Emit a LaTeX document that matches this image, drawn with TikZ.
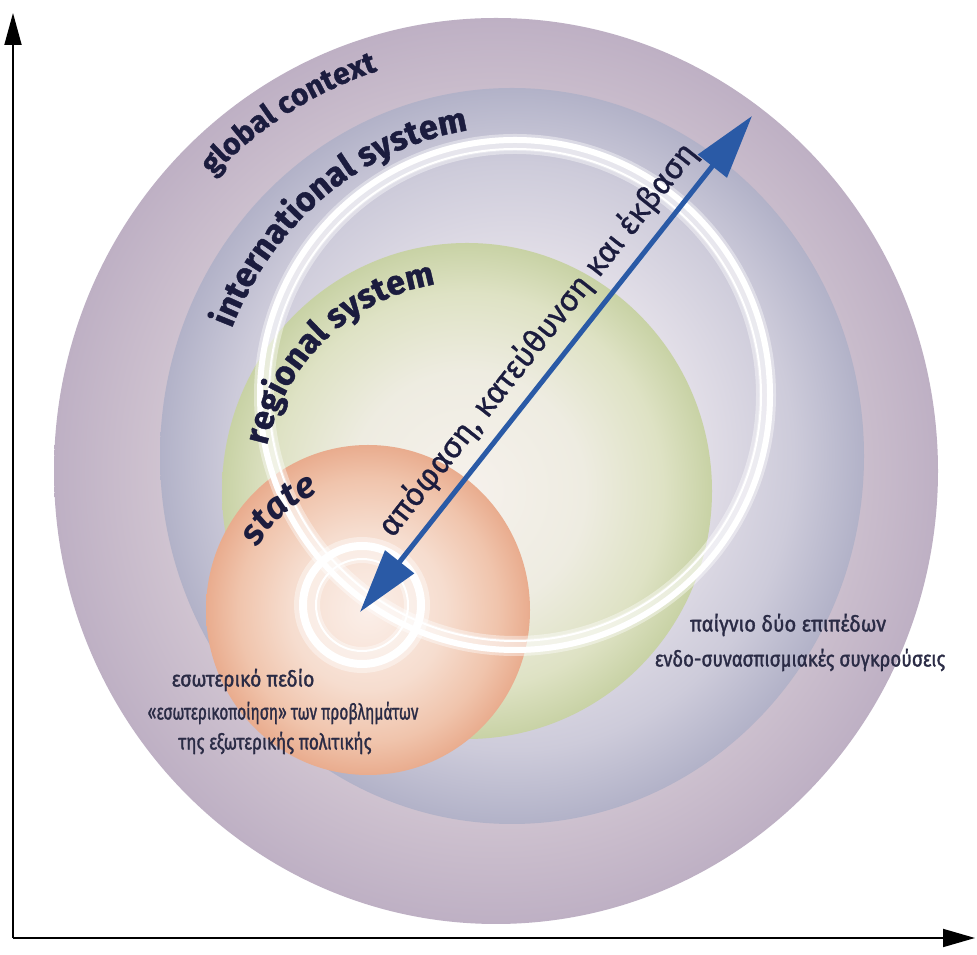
\documentclass[tikz,border=0pt]{standalone}
\usepackage{fontspec}
\usepackage{graphicx}
\usetikzlibrary{arrows.meta,decorations.text}
\newfontfamily\curvfont{Fira Sans}[BoldFeatures={FakeBold=1.2}]
\newfontfamily\lblfont{Fira Sans}[FakeStretch=0.88, FakeBold=1.4]
\newfontfamily\dirfont{Fira Sans}[FakeBold=0.9]
\definecolor{navy}{HTML}{1B1C3E}
\definecolor{txtgrey}{HTML}{2A2B45}
\definecolor{arrowblue}{HTML}{2A5AA6}
\definecolor{oc0}{RGB}{244,238,240}
\definecolor{oc1}{RGB}{210,198,210}
\definecolor{oc2}{RGB}{190,176,196}
\definecolor{ic0}{RGB}{246,243,246}
\definecolor{ic1}{RGB}{230,226,234}
\definecolor{ic2}{RGB}{205,203,218}
\definecolor{ic3}{RGB}{178,178,200}
\definecolor{gc0}{RGB}{246,241,236}
\definecolor{gc1}{RGB}{238,236,225}
\definecolor{gc2}{RGB}{222,226,196}
\definecolor{gc3}{RGB}{200,210,165}
\definecolor{sc0}{RGB}{251,239,233}
\definecolor{sc1}{RGB}{246,221,207}
\definecolor{sc2}{RGB}{240,196,172}
\definecolor{sc3}{RGB}{233,172,142}
\pgfdeclareradialshading{sOuter}{\pgfpoint{0bp}{0bp}}{color(0bp)=(oc0); color(18bp)=(oc1); color(25bp)=(oc2); color(50bp)=(oc2)}
\pgfdeclareradialshading{sIntl}{\pgfpoint{0bp}{0bp}}{color(0bp)=(ic0); color(12bp)=(ic1); color(20bp)=(ic2); color(25bp)=(ic3); color(50bp)=(ic3)}
\pgfdeclareradialshading{sGreen}{\pgfpoint{0bp}{0bp}}{color(0bp)=(gc0); color(12bp)=(gc1); color(20bp)=(gc2); color(25bp)=(gc3); color(50bp)=(gc3)}
\pgfdeclareradialshading{sState}{\pgfpoint{0bp}{0bp}}{color(0bp)=(sc0); color(12bp)=(sc1); color(20bp)=(sc2); color(25bp)=(sc3); color(50bp)=(sc3)}
\tikzset{
  glow/.style={draw=white, opacity=0.4},
  ringmain/.style={draw=white, line width=6},
  ringthin/.style={draw=white, line width=2},
  lbl/.style={font=\lblfont\fontsize{22}{24}\selectfont, text=txtgrey, inner sep=0pt},
  axis/.style={draw=black, line width=1.8},
  curvlbl/.style={decorate, decoration={text along path, text align=center, text={#1}}}
}
\begin{document}
\begin{tikzpicture}[x=1pt,y=1pt]
\useasboundingbox (0,0) rectangle (977,955);
\fill[white] (0,0) rectangle (977,955);
% circles
\shade[shading=sOuter] (496,484) ellipse [x radius=442, y radius=453];
\shade[shading=sIntl] (512,499) ellipse [x radius=352, y radius=368];
\shade[shading=sGreen] (467,464) ellipse [x radius=245, y radius=248];
\shade[shading=sState] (368,345) ellipse [x radius=162, y radius=165];
% white loops
\draw[glow, line width=20] (515,560) circle [radius=251];
\draw[ringmain] (515,560) circle [radius=255];
\draw[ringthin] (515,560) circle [radius=246];
\draw[glow, line width=26] (362,350) circle [radius=55];
\draw[ringmain, line width=8] (362,350) circle [radius=59];
\draw[ringthin] (362,350) circle [radius=46];
\draw[glow, line width=14, opacity=0.3] (515,560) circle [radius=251];
% curved labels
\path[curvlbl={|\color{navy}\curvfont\bfseries\fontsize{30}{30}\selectfont|global context}]
  (496,484) ++(151:399 and 419) arc [start angle=151, end angle=91, x radius=399, y radius=419];
\path[curvlbl={|\color{navy}\curvfont\bfseries\fontsize{34}{34}\selectfont|international system}]
  (512,499) ++(164:304 and 329) arc [start angle=164, end angle=91, x radius=304, y radius=329];
\path[curvlbl={|\color{navy}\curvfont\bfseries\fontsize{34}{34}\selectfont|regional system}]
  (467,464) ++(180:205 and 209) arc [start angle=180, end angle=86, x radius=205, y radius=209];
\path[curvlbl={|\color{navy}\curvfont\bfseries\itshape\fontsize{36}{36}\selectfont|state}]
  (368,345) ++(170:127) arc [start angle=170, end angle=93, radius=127];
% arrow
\coordinate (low) at (360,343);
\coordinate (high) at (752,839);
\draw[arrowblue, line width=5, {Triangle[length=64, width=36]}-{Triangle[length=64, width=36]}] (low) -- (high);
\node[font=\dirfont\fontsize{32}{32}\selectfont, text=navy, rotate=51.6, inner sep=0pt] (dir) at (538,615) {απόφαση, κατεύθυνση και έκβαση};
% labels
\node[lbl] (in1) at (243,275) {εσωτερικό πεδίο};
\node[lbl] (in2) at (283,242) {\scalebox{0.8}[1]{«εσωτερικοποίηση» των προβλημάτων}};
\node[lbl] (in3) at (275,212) {\scalebox{0.89}[1]{της εξωτερικής πολιτικής}};
\node[lbl] (g1) at (788,330) {\scalebox{1.04}[1]{παίγνιο δύο επιπέδων}};
\node[lbl] (g2) at (800,295) {\scalebox{0.96}[1]{ενδο-συνασπισμιακές συγκρούσεις}};
% axes
\coordinate (orig) at (13,17);
\coordinate (ytip) at (13,942);
\coordinate (xtip) at (975,17);
\draw[axis, -{Triangle[length=32, width=17]}] (orig) -- (ytip);
\draw[axis, -{Triangle[length=32, width=18]}] (orig) -- (xtip);
\end{tikzpicture}
\end{document}
